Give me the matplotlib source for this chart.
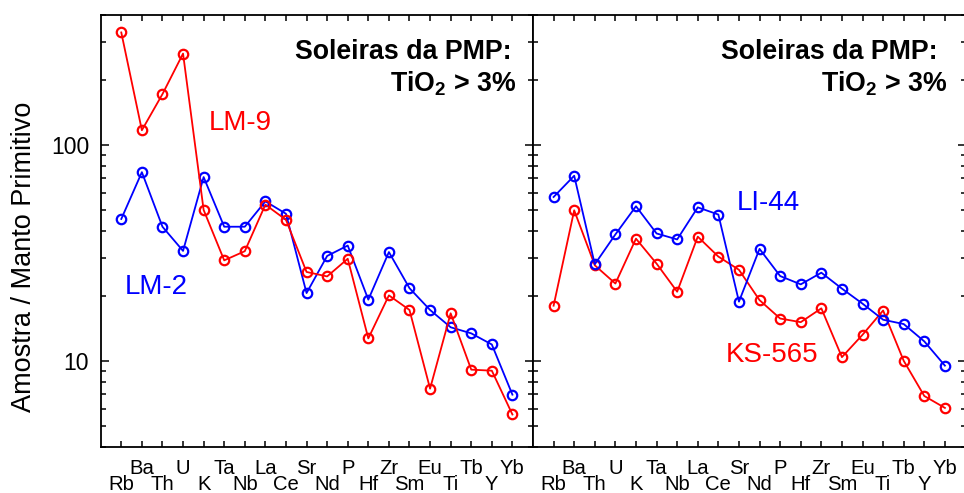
import matplotlib
matplotlib.use('Agg')
import matplotlib.pyplot as plt
from matplotlib.ticker import LogLocator, NullFormatter, FixedLocator

plt.rcParams['font.family'] = ['Liberation Sans', 'DejaVu Sans']
plt.rcParams['mathtext.fontset'] = 'custom'
plt.rcParams['mathtext.rm'] = 'Liberation Sans'
plt.rcParams['mathtext.bf'] = 'Liberation Sans:bold'

elements = ['Rb', 'Ba', 'Th', 'U', 'K', 'Ta', 'Nb', 'La', 'Ce', 'Sr',
            'Nd', 'P', 'Hf', 'Zr', 'Sm', 'Eu', 'Ti', 'Tb', 'Y', 'Yb']

lm9 = [332, 117, 172, 265, 50, 29.2, 32.2, 52.9, 45, 25.8,
       24.6, 29.7, 12.7, 20.1, 17.2, 7.43, 16.6, 9.1, 9.0, 5.64]
lm2 = [45.4, 74.8, 41.8, 32.3, 71, 41.8, 41.8, 54.8, 48, 20.6,
       30.6, 34.2, 19.2, 31.9, 21.7, 17.2, 14.3, 13.4, 11.9, 6.97]
li44 = [57.4, 72, 28, 38.5, 52, 38.9, 36.5, 51.4, 47.6, 18.8,
        33, 24.7, 22.6, 25.6, 21.6, 18.4, 15.5, 14.8, 12.3, 9.5]
ks565 = [18, 49.8, 27.7, 22.8, 36.8, 28.2, 20.9, 37.6, 30.4, 26.4,
         19.1, 15.7, 15.1, 17.5, 10.4, 13.2, 17.1, 10, 6.87, 6.05]

RED = '#ff0000'
BLUE = '#0000ff'

fig = plt.figure(figsize=(9.64, 4.93), dpi=100)
W, H = 964, 493
left, mid, rightx = 100.7, 533, 965.5
top, bottom = 15, 446.7
ax1 = fig.add_axes([left / W, 1 - bottom / H, (mid - left) / W, (bottom - top) / H])
ax2 = fig.add_axes([mid / W, 1 - bottom / H, (rightx - mid) / W, (bottom - top) / H])

xs = list(range(1, len(elements) + 1))

def style(ax, show_ylabels):
    ax.set_yscale('log')
    ax.set_ylim(4, 400)
    ax.set_xlim(0, 21)
    ax.yaxis.set_major_locator(FixedLocator([10, 100]))
    ax.yaxis.set_minor_locator(LogLocator(base=10, subs=[2, 3, 4, 5, 6, 7, 8, 9]))
    ax.yaxis.set_minor_formatter(NullFormatter())
    if show_ylabels:
        ax.set_yticklabels(['10', '100'])
    else:
        ax.set_yticklabels([])
    ax.set_xticks(xs[1::2])
    ax.set_xticklabels(elements[1::2])
    ax.set_xticks(xs[0::2], minor=True)
    ax.set_xticklabels(elements[0::2], minor=True)
    ax.tick_params(axis='x', which='both', direction='in', top=True, bottom=True,
                   length=4.3, width=1.1, labelsize=14.6)
    ax.tick_params(axis='x', which='major', pad=8.6)
    ax.tick_params(axis='x', which='minor', pad=20.3)
    ax.tick_params(axis='y', which='major', direction='in', left=True, right=True,
                   length=5.8, width=1.1, labelsize=16.5, pad=8.4,
                   labelleft=show_ylabels)
    ax.tick_params(axis='y', which='minor', direction='in', left=True, right=True,
                   length=3.8, width=1.1)
    for s in ax.spines.values():
        s.set_linewidth(1.3)

style(ax1, True)
style(ax2, False)

mk = dict(marker='o', markersize=6.8, markerfacecolor='none', markeredgewidth=1.6,
          linewidth=1.3)
ax1.plot(xs, lm2, color=BLUE, **mk)
ax1.plot(xs, lm9, color=RED, **mk)
ax2.plot(xs, ks565, color=RED, **mk)
ax2.plot(xs, li44, color=BLUE, **mk)

# header text (right-aligned), per panel
for ax, x1, x2 in ((ax1, 19.95, 20.17), (ax2, 19.66, 20.1)):
    ax.text(x1, 249, 'Soleiras da PMP:', fontsize=19.3, fontweight='bold',
            ha='right', va='baseline')
    ax.text(x2, 177, r'TiO$_\mathbf{2}$ > 3%', fontsize=19.3, fontweight='bold',
            ha='right', va='baseline')

ax1.text(5.24, 117, 'LM-9', color=RED, fontsize=20, ha='left', va='baseline')
ax1.text(1.16, 20.5, 'LM-2', color=BLUE, fontsize=20, ha='left', va='baseline')
ax2.text(9.88, 50, 'LI-44', color=BLUE, fontsize=20, ha='left', va='baseline')
ax2.text(9.34, 9.9, 'KS-565', color=RED, fontsize=20, ha='left', va='baseline')

fig.text(24 / W, 1 - 257 / H, 'Amostra / Manto Primitivo', rotation=90,
         fontsize=19.5, ha='center', va='center')

fig.savefig('out.png', dpi=100)
